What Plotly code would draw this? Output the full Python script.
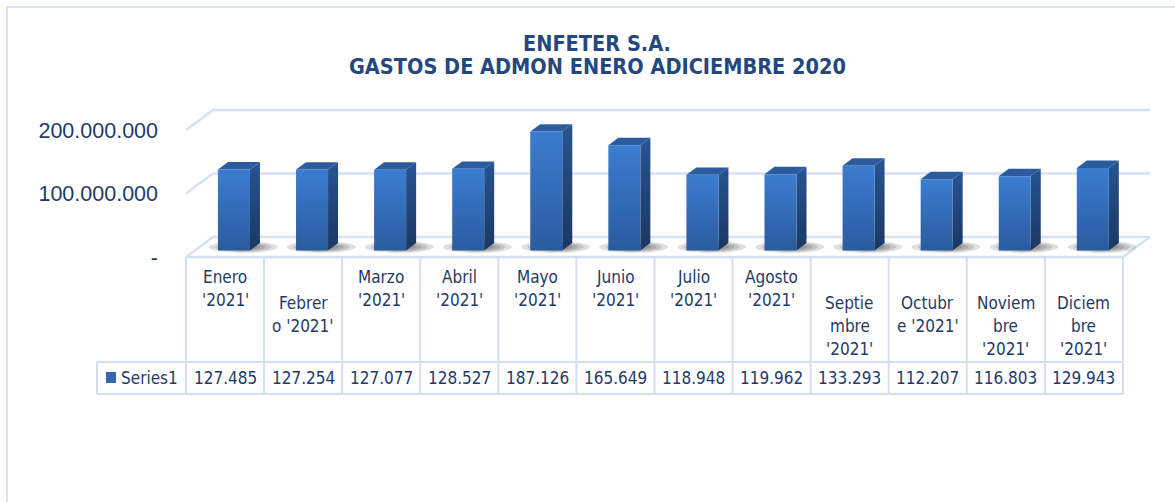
import numpy as np
import plotly.graph_objects as go

# ---------------- data ----------------
months = ["Enero", "Febrero", "Marzo", "Abril", "Mayo", "Junio", "Julio",
          "Agosto", "Septiembre", "Octubre", "Noviembre", "Diciembre"]
categories = [f"{m} '2021'" for m in months]
category_labels = ["Enero<br>'2021'", "Febrer<br>o '2021'", "Marzo<br>'2021'",
                   "Abril<br>'2021'", "Mayo<br>'2021'", "Junio<br>'2021'",
                   "Julio<br>'2021'", "Agosto<br>'2021'", "Septie<br>mbre<br>'2021'",
                   "Octubr<br>e '2021'", "Noviem<br>bre<br>'2021'", "Diciem<br>bre<br>'2021'"]
values_thousands = [127485, 127254, 127077, 128527, 187126, 165649,
                    118948, 119962, 133293, 112207, 116803, 129943]
series_name = "Series1"
y_tick_values = [0, 100000000, 200000000]
title_lines = ["ENFETER S.A.", "GASTOS DE ADMON ENERO ADICIEMBRE 2020"]

values = [v * 1000 for v in values_thousands]
y_tick_text = ["-" if t == 0 else f"{t:,}".replace(",", ".") for t in y_tick_values]
table_text = [f"{v:,}".replace(",", ".") for v in values_thousands]

# ---------------- geometry / style ----------------
W, H = 1175, 502
PX0, COLW = 186, 78.08          # left edge of category area, px per category
PY0, PXV = 257, 63.5 / 1e8      # baseline (front), px per value unit
DDX, DDY = 27, 20               # full depth offset of the 3D floor (px)
X_RIGHT, Y_TOP = 1150, 100

N = len(values)
x_range = [0, (X_RIGHT - PX0) / COLW]
y_range = [0, (PY0 - Y_TOP) / PXV]


def px(xd):
    return PX0 + xd * COLW


def X(p):
    return p / W


def Y(p):
    return 1 - p / H


def proj(xc, v, d):
    return xc + d * DDX / COLW, v + d * DDY / PXV


GRID_C = "#d6e1f2"
TEXT_C = "#1f3a66"
TITLE_C = "#24487d"
NARROW = "Liberation Sans Narrow, Arial Narrow, DejaVu Sans Condensed, Liberation Sans, Arial"
REG = "Liberation Sans, Arial, sans-serif"

fig = go.Figure()

# gridlines (3D style: diagonal on the left side wall, then along the back wall)
gx, gy = [], []
for t in y_tick_values:
    for (xc, d) in [(0, 0), (0, 1), (N + 0.0, 1)]:
        a, b = proj(xc, t, d)
        if xc == N:
            a = x_range[1]
        gx.append(a)
        gy.append(b)
    gx.append(None)
    gy.append(None)
# floor right edge
for (xc, d) in [(N, 0), (N, 1)]:
    a, b = proj(xc, 0, d)
    gx.append(a)
    gy.append(b)
fig.add_trace(go.Scatter(x=gx, y=gy, mode="lines", line=dict(color=GRID_C, width=2.5),
                         hoverinfo="skip", showlegend=False))

# bars
HALF_W = 0.205
D1, D2 = 0.33, 0.70
t = np.linspace(0, 2 * np.pi, 60)
for i, v in enumerate(values):
    xc = i + 0.5
    # soft shadow on the floor
    cx, cy = proj(xc + 0.06, 0, 0.5)
    for s in [1.0, 0.82, 0.66, 0.5]:
        ex = cx + s * 0.44 * np.cos(t)
        ey = cy + s * (6 / PXV) * np.sin(t)
        fig.add_trace(go.Scatter(x=ex, y=ey, mode="lines", line=dict(width=0),
                                 fill="toself", fillcolor="rgba(30,30,30,0.14)",
                                 hoverinfo="skip", showlegend=False))
for i, v in enumerate(values):
    xc = i + 0.5
    l, r = xc - HALF_W, xc + HALF_W
    # side face
    pts = [proj(r, 0, D1), proj(r, 0, D2), proj(r, v, D2), proj(r, v, D1), proj(r, 0, D1)]
    fig.add_trace(go.Scatter(x=[p[0] for p in pts], y=[p[1] for p in pts], mode="lines",
                             line=dict(width=0), fill="toself",
                             fillgradient=dict(type="vertical",
                                               colorscale=[[0, "#1b3862"], [1, "#285491"]]),
                             hoverinfo="skip", showlegend=False))
    # top face
    pts = [proj(l, v, D1), proj(r, v, D1), proj(r, v, D2), proj(l, v, D2), proj(l, v, D1)]
    fig.add_trace(go.Scatter(x=[p[0] for p in pts], y=[p[1] for p in pts], mode="lines",
                             line=dict(width=0), fill="toself", fillcolor="#2c5c9d",
                             hoverinfo="skip", showlegend=False))
    # front face
    pts = [proj(l, 0, D1), proj(r, 0, D1), proj(r, v, D1), proj(l, v, D1), proj(l, 0, D1)]
    fig.add_trace(go.Scatter(x=[p[0] for p in pts], y=[p[1] for p in pts], mode="lines",
                             line=dict(width=0), fill="toself",
                             fillgradient=dict(type="vertical",
                                               colorscale=[[0, "#2b5b9f"], [1, "#3b7dd1"]]),
                             name=categories[i], hoverinfo="skip", showlegend=False))

shapes = []
# chart border
shapes.append(dict(type="rect", xref="paper", yref="paper", x0=X(7), y0=Y(7), x1=X(1190), y1=Y(520),
                   line=dict(color="#d8e3f3", width=2), fillcolor="rgba(0,0,0,0)", layer="below"))
# data table
T_TOP, T_MID, T_BOT, T_LEFT = 257, 362, 394, 97
TBL_C = "#d3dff0"
for k in range(N + 1):
    shapes.append(dict(type="line", xref="paper", yref="paper", x0=X(px(k)), x1=X(px(k)),
                       y0=Y(T_TOP), y1=Y(T_BOT), line=dict(color=TBL_C, width=2)))
shapes.append(dict(type="line", xref="paper", yref="paper", x0=X(T_LEFT), x1=X(T_LEFT),
                   y0=Y(T_MID), y1=Y(T_BOT), line=dict(color=TBL_C, width=2)))
shapes.append(dict(type="line", xref="paper", yref="paper", x0=X(px(0)), x1=X(px(N)),
                   y0=Y(T_TOP), y1=Y(T_TOP), line=dict(color=TBL_C, width=2.5)))
for yy in [T_MID, T_BOT]:
    shapes.append(dict(type="line", xref="paper", yref="paper", x0=X(T_LEFT), x1=X(px(N)),
                       y0=Y(yy), y1=Y(yy), line=dict(color=TBL_C, width=2)))
# legend key in table
shapes.append(dict(type="rect", xref="paper", yref="paper", x0=X(106), x1=X(116), y0=Y(372), y1=Y(383),
                   line=dict(width=0), fillcolor="#3366ad"))

annotations = []
# title
for j, (txt, yc) in enumerate(zip(title_lines, [43, 66])):
    annotations.append(dict(text=f"<b>{txt}</b>", xref="paper", yref="paper", x=X(597), y=Y(yc),
                            xanchor="center", yanchor="middle", showarrow=False,
                            font=dict(family=NARROW, size=21.5, color=TITLE_C)))
# category labels
LINE_STEP = 23.2
LBL_SIZE = 17
for i, lab in enumerate(category_labels):
    lines = lab.split("<br>")
    shifted = not categories[i].startswith(lines[0] + " ")
    y0 = 303 if shifted else 277
    for j, ln in enumerate(lines):
        annotations.append(dict(text=ln, xref="paper", yref="paper", x=X(px(i + 0.5)),
                                y=Y(y0 + j * LINE_STEP), xanchor="center", yanchor="middle",
                                showarrow=False, font=dict(family=NARROW, size=LBL_SIZE, color=TEXT_C)))
# values row
for i, tv in enumerate(table_text):
    annotations.append(dict(text=tv, xref="paper", yref="paper", x=X(px(i + 0.5)), y=Y(378),
                            xanchor="center", yanchor="middle", showarrow=False,
                            font=dict(family=NARROW, size=LBL_SIZE, color=TEXT_C)))
annotations.append(dict(text=series_name, xref="paper", yref="paper", x=X(119), y=Y(378),
                        xanchor="left", yanchor="middle", showarrow=False,
                        font=dict(family=NARROW, size=LBL_SIZE, color=TEXT_C)))

fig.update_layout(
    width=W, height=H,
    margin=dict(l=0, r=0, t=0, b=0, pad=0),
    paper_bgcolor="white", plot_bgcolor="rgba(0,0,0,0)",
    showlegend=False,
    xaxis=dict(domain=[X(PX0), X(X_RIGHT)], range=x_range, visible=False, fixedrange=True),
    yaxis=dict(domain=[Y(PY0), Y(Y_TOP)], range=y_range, showgrid=False, zeroline=False,
               showline=False, ticks="", tickvals=y_tick_values, ticktext=y_tick_text,
               tickfont=dict(family=REG, size=21.5, color=TEXT_C), ticklabelstandoff=27,
               automargin=False, fixedrange=True),
    shapes=shapes,
    annotations=annotations,
)

fig.write_html("out.html", config={"displayModeBar": False},
               post_script="document.body.style.margin='0px';")
